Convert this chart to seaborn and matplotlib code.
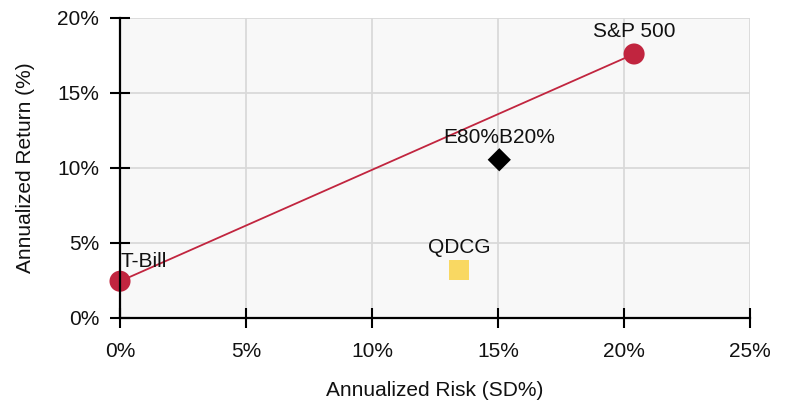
import pandas as pd
import matplotlib.pyplot as plt
import matplotlib.ticker as mticker
import seaborn as sns

# values (percent)
names = ['T-Bill', 'S&P 500', 'E80%B20%', 'QDCG']
risk = [0.0, 20.4, 15.05, 13.45]
ret = [2.45, 17.6, 10.55, 3.2]
colors = ['#c1253f', '#c1253f', '#000000', '#f9d862']
markers = ['o', 'o', 'D', 's']
sizes = [230, 230, 140, 210]

line_names = ['T-Bill', 'S&P 500']

df = pd.DataFrame({'name': names, 'risk': risk, 'ret': ret})
line_df = df[df['name'].isin(line_names)]

sns.set_theme(style='whitegrid')
plt.rcParams['font.family'] = ['Liberation Sans', 'DejaVu Sans']

fig = plt.figure(figsize=(7.88, 4.08), dpi=100)
ax = fig.add_axes([0.1523, 0.2206, 0.7995, 0.7353])
ax.set_facecolor('#f8f8f8')

sns.lineplot(data=line_df, x='risk', y='ret', color='#c1253f', linewidth=1.3, ax=ax, zorder=2)

for i, row in df.iterrows():
    sns.scatterplot(x=[row['risk']], y=[row['ret']], marker=markers[i], s=sizes[i],
                    color=colors[i], edgecolor='none', ax=ax, zorder=3, clip_on=False)
    ha = 'left' if row['name'] == 'T-Bill' else 'center'
    dy = 14 if row['name'] == 'T-Bill' else 16
    ax.annotate(row['name'], (row['risk'], row['ret']), xytext=(0, dy),
                textcoords='offset points', ha=ha, va='center', fontsize=15, color='#111111')

ax.set_xlim(0, 25)
ax.set_ylim(0, 20)
ax.xaxis.set_major_locator(mticker.MultipleLocator(5))
ax.yaxis.set_major_locator(mticker.MultipleLocator(5))
ax.xaxis.set_major_formatter(mticker.FuncFormatter(lambda v, p: f'{v:.0f}%'))
ax.yaxis.set_major_formatter(mticker.FuncFormatter(lambda v, p: f'{v:.0f}%'))

ax.grid(True, color='#d9d9d9', linewidth=1.3)
for s in ['top', 'right']:
    ax.spines[s].set_visible(False)
for s in ['left', 'bottom']:
    ax.spines[s].set_color('black')
    ax.spines[s].set_linewidth(1.6)
    ax.spines[s].set_zorder(4)

ax.tick_params(axis='x', bottom=True, direction='inout', length=14, width=1.5, color='black', pad=10, labelsize=15)
ax.tick_params(axis='y', left=True, direction='inout', length=14, width=1.5, color='black', pad=8, labelsize=15)
ax.tick_params(labelcolor='#111111')

ax.set_xlabel('Annualized Risk (SD%)', fontsize=15, labelpad=15, color='#111111')
ax.set_ylabel('Annualized Return (%)', fontsize=15, labelpad=16, color='#111111')

plt.savefig('out.png', dpi=100)
